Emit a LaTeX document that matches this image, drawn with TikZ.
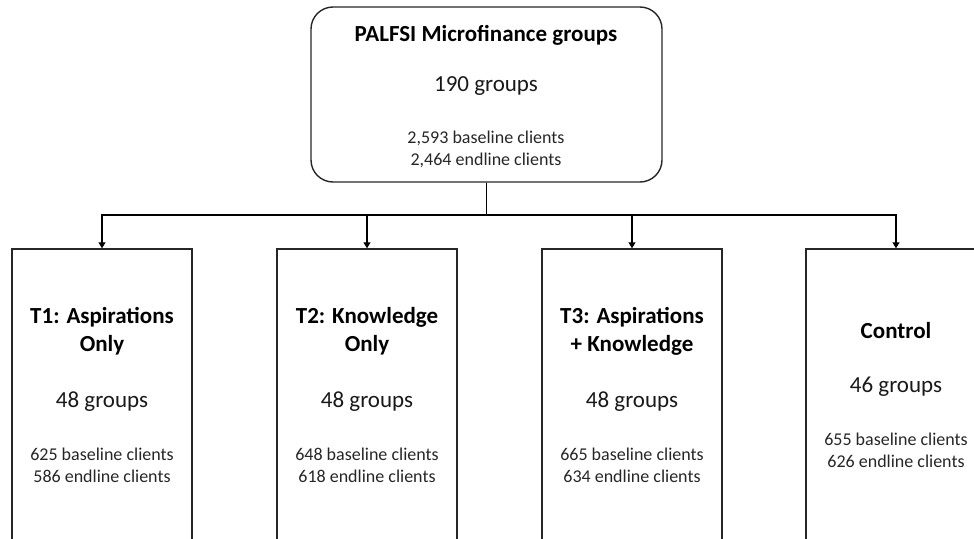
\documentclass[tikz,border=0pt]{standalone}
\usepackage{fontspec}
\setmainfont{Carlito}
\usetikzlibrary{arrows.meta,positioning}

\begin{document}
\begin{tikzpicture}[x=1pt,y=-1pt,
  topbox/.style={rectangle,draw=black!85,line width=1.4pt,rounded corners=22pt,minimum width=351pt,minimum height=175pt,inner sep=0pt},
  box/.style={rectangle,draw=black!85,line width=1.4pt,minimum width=180pt,minimum height=320pt,inner sep=0pt},
  head/.style={font=\fontsize{23}{28}\selectfont\bfseries,align=center},
  grp/.style={font=\fontsize{23}{28}\selectfont,text=black!90},
  cli/.style={font=\fontsize{18}{22}\selectfont,align=center,text=black!85},
  arr/.style={-{Triangle[width=7pt,length=6pt]},line width=1.2pt}]
\useasboundingbox (0,0) rectangle (974,538);
\clip (0,0) rectangle (974,538);

% top box
\node[topbox] at (486.5,94.5)	(top) {};
\node[head] at (486,35)	(toptitle) {PALFSI Microfinance groups};
\node[grp] at (486,86)	(topgrp) {190 groups};
\node[cli] at (486,149)	(topcli) {2,593 baseline clients\\2,464 endline clients};

% arms
\node[box] at (102,409)	(b1) {};
\node[box] at (367,409)	(b2) {};
\node[box] at (632,409)	(b3) {};
\node[box] at (896,409)	(b4) {};

\node[head] at (102,331)	(h1) {T1: Aspirations\\Only};
\node[head] at (367,331)	(h2) {T2: Knowledge\\Only};
\node[head] at (632,331)	(h3) {T3: Aspirations\\+ Knowledge};
\node[head] at (896,331)	(h4) {Control};

\node[grp] at (102,402)	(g1) {48 groups};
\node[grp] at (367,402)	(g2) {48 groups};
\node[grp] at (632,402)	(g3) {48 groups};
\node[grp] at (896,387)	(g4) {46 groups};

\node[cli] at (102,465)	(c1) {625 baseline clients\\586 endline clients};
\node[cli] at (367,465)	(c2) {648 baseline clients\\618 endline clients};
\node[cli] at (632,465)	(c3) {665 baseline clients\\634 endline clients};
\node[cli] at (896,450)	(c4) {655 baseline clients\\626 endline clients};

\coordinate (split) at (486.5,215);
\draw[arr] (top.south) -- (split) -| (b1.north);
\draw[arr] (top.south) -- (split) -| (b2.north);
\draw[arr] (top.south) -- (split) -| (b3.north);
\draw[arr] (top.south) -- (split) -| (b4.north);
\end{tikzpicture}
\end{document}
